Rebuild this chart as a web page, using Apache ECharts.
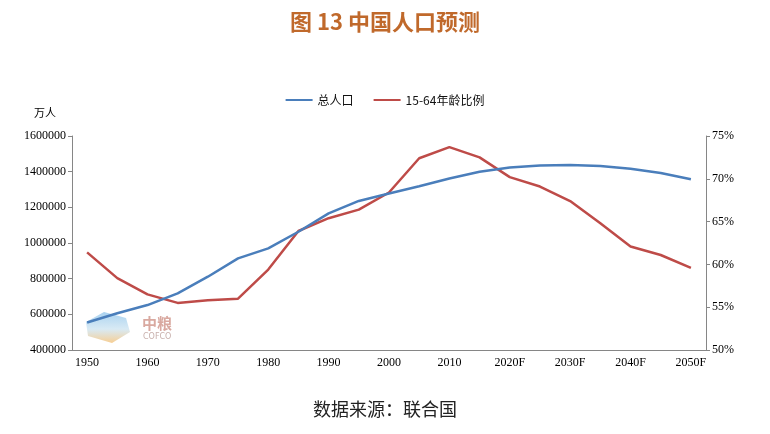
<!DOCTYPE html>
<html>
<head>
<meta charset="utf-8">
<script src="https://cdn.jsdelivr.net/npm/echarts@6/dist/echarts.min.js"></script>
<style>
  html, body { margin: 0; padding: 0; background: #fff; }
  #chart { width: 770px; height: 434px; }
</style>
</head>
<body>
<div id="chart"></div>
<script>
// 年份（类目），标签每隔一个显示
const years = ['1950','1955','1960','1965','1970','1975','1980','1985','1990','1995','2000',
  '2005','2010','2015','2020F','2025F','2030F','2035F','2040F','2045F','2050F'];
// 总人口（万人）
const population = [554000, 606000, 652000, 718000, 811000, 914000, 970000, 1063000, 1166000, 1236000, 1278000,
  1318000, 1362000, 1399000, 1423000, 1435000, 1438000, 1432000, 1416000, 1393000, 1358000];
// 15-64岁人口比例（%）
const ratio = [61.4, 58.4, 56.5, 55.5, 55.8, 56.0, 59.4, 63.9, 65.4, 66.4, 68.4,
  72.4, 73.7, 72.5, 70.2, 69.1, 67.4, 64.8, 62.1, 61.1, 59.6];

const serif = 'Liberation Serif, Noto Sans CJK SC, serif';
const axisColor = '#868686';

const chart = echarts.init(document.getElementById('chart'));
chart.setOption({
  animation: false,
  backgroundColor: '#fff',
  title: [{
    text: '图 13 中国人口预测',
    left: 'center',
    top: 6,
    textStyle: { fontFamily: 'Noto Sans CJK SC', fontWeight: 'bold', fontSize: 22, color: '#C0692B' }
  }, {
    text: '数据来源：联合国',
    left: 'center',
    top: 395,
    textStyle: { fontFamily: 'Noto Sans CJK SC', fontWeight: 'normal', fontSize: 18, color: '#222' }
  }],
  legend: {
    top: 89,
    left: 'center',
    itemWidth: 27,
    itemHeight: 2,
    itemGap: 20,
    icon: 'rect',
    textStyle: { fontFamily: 'Noto Sans CJK SC', fontSize: 12, color: '#111' },
    data: ['总人口', '15-64年龄比例']
  },
  grid: { left: 72, right: 64, top: 136, bottom: 84 },
  xAxis: {
    type: 'category',
    data: years,
    boundaryGap: true,
    axisLine: { lineStyle: { color: axisColor } },
    axisTick: { interval: 0, length: 5, lineStyle: { color: axisColor } },
    axisLabel: { interval: 1, color: '#000', fontFamily: serif, fontSize: 12, margin: 7 }
  },
  yAxis: [{
    type: 'value',
    min: 400000,
    max: 1600000,
    interval: 200000,
    name: '万人',
    nameLocation: 'end',
    nameGap: 18,
    nameTextStyle: { fontFamily: 'Noto Sans CJK SC', fontSize: 11, color: '#000', align: 'right', padding: [0, 16, 0, 0] },
    axisLine: { show: true, lineStyle: { color: axisColor } },
    axisTick: { show: true, length: 4, lineStyle: { color: axisColor } },
    axisLabel: { color: '#000', fontFamily: serif, fontSize: 12, margin: 6, formatter: function (v) { return String(v); } },
    splitLine: { show: false }
  }, {
    type: 'value',
    min: 50,
    max: 75,
    interval: 5,
    position: 'right',
    axisLine: { show: true, lineStyle: { color: axisColor } },
    axisTick: { show: true, length: 4, lineStyle: { color: axisColor } },
    axisLabel: { color: '#000', fontFamily: serif, fontSize: 12, margin: 6, formatter: '{value}%' },
    splitLine: { show: false }
  }],
  series: [{
    name: '总人口',
    type: 'line',
    yAxisIndex: 0,
    data: population,
    symbol: 'none',
    color: '#4A7EBB',
    lineStyle: { width: 2.5, color: '#4A7EBB' },
    z: 3
  }, {
    name: '15-64年龄比例',
    type: 'line',
    yAxisIndex: 1,
    data: ratio,
    symbol: 'none',
    color: '#BE4B48',
    lineStyle: { width: 2.5, color: '#BE4B48' },
    z: 2
  }],
  graphic: [{
    type: 'polygon',
    shape: { points: [[86, 322], [104, 312], [126, 318], [130, 332], [112, 343], [88, 336]] },
    style: {
      fill: new echarts.graphic.LinearGradient(0, 0, 0, 1, [
        { offset: 0, color: 'rgba(140,195,235,0.75)' },
        { offset: 0.55, color: 'rgba(200,225,240,0.7)' },
        { offset: 1, color: 'rgba(245,190,110,0.75)' }
      ])
    },
    z: 1
  }, {
    type: 'text',
    left: 142,
    top: 316,
    style: { text: '中粮', fill: '#D9A9A0', font: 'bold 15px Noto Sans CJK SC' },
    z: 1
  }, {
    type: 'text',
    left: 143,
    top: 333,
    style: { text: 'COFCO', fill: '#C8B0AC', font: '8px DejaVu Sans' },
    z: 1
  }]
});
</script>
</body>
</html>
